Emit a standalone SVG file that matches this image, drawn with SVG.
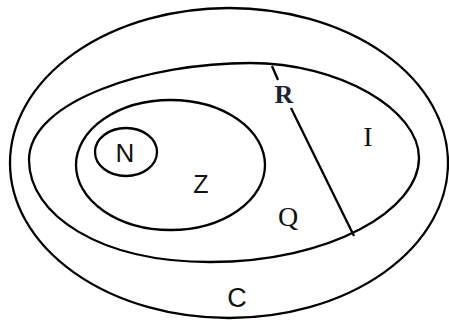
<svg xmlns="http://www.w3.org/2000/svg" width="449" height="322" viewBox="0 0 449 322">
<style>
.s{fill:none;stroke:#000;stroke-width:2.3}
.serif{font-family:"Liberation Serif","DejaVu Serif",serif;font-size:28px;fill:#111;text-anchor:middle}
.sans{font-family:"Liberation Sans","DejaVu Sans",sans-serif;font-size:26px;fill:#111;text-anchor:middle}
</style>
<rect width="449" height="322" fill="#fff"/>
<g id="C"><ellipse class="s" cx="229" cy="163" rx="219" ry="155"/><text class="sans" x="237" y="307" style="font-size:27px">C</text></g>
<g id="R"><path class="s" d="M29,160 C29,100 150,63 250,63 C340,63 419,110 419,158 C419,210 330,262 210,262 C100,262 29,215 29,160 Z"/><text class="serif" x="284" y="103" style="font-size:26px;font-weight:bold;fill:#1a2233">R</text></g>
<g id="I"><text class="serif" x="368" y="146">I</text></g>
<g id="Q"><text class="serif" x="288" y="226">Q</text></g>
<g id="Z"><ellipse class="s" cx="170.5" cy="165" rx="94.5" ry="65"/><text class="sans" x="201" y="193" style="font-size:25px">Z</text></g>
<g id="N"><ellipse class="s" cx="126" cy="152" rx="31" ry="24"/><text class="sans" x="125" y="162">N</text></g>
<g id="connectors"><line class="s" x1="272" y1="66" x2="278" y2="80"/><line class="s" x1="291" y1="108" x2="354" y2="236"/></g>
</svg>
